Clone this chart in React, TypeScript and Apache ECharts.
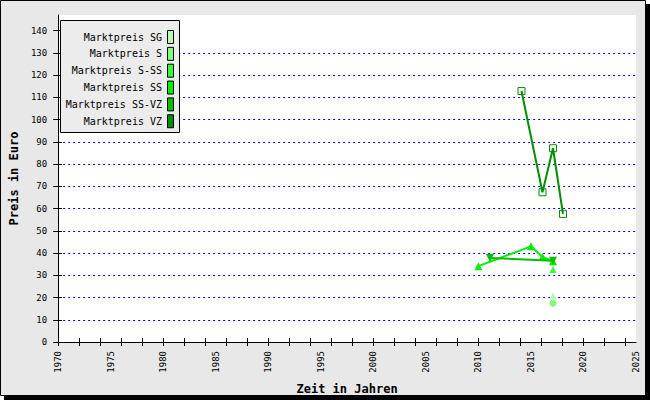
import React, { useEffect, useRef } from "react";
import * as echarts from "echarts";

// ---- data ----
const seriesNames = [
  "Marktpreis SG",
  "Marktpreis S",
  "Marktpreis S-SS",
  "Marktpreis SS",
  "Marktpreis SS-VZ",
  "Marktpreis VZ",
];
const seriesColors = ["#b3ffb3", "#80ff80", "#33ff33", "#00ee00", "#00c000", "#008f00"];

const sgYears = [2017.1];
const sgPrices = [20.8];
const sYears = [2017.1];
const sPrices = [17.4];
const sSsYears = [2017.1];
const sSsPrices = [32.6];
const ssYears = [2010.0, 2015.0, 2016.1, 2017.1];
const ssPrices = [34.1, 43.0, 38.2, 36.3];
const ssVzYears = [2011.1, 2017.1];
const ssVzPrices = [37.8, 36.5];
const vzYears = [2014.1, 2016.1, 2017.1, 2018.05];
const vzPrices = [112.8, 67.3, 87.1, 57.6];

const xTickValues = [
  1970, 1972, 1974, 1976, 1978, 1980, 1982, 1984, 1986, 1988, 1990, 1992, 1994, 1996, 1998,
  2000, 2002, 2004, 2006, 2008, 2010, 2012, 2014, 2016, 2018, 2020, 2022, 2024,
];
const xLabelValues = [1970, 1975, 1980, 1985, 1990, 1995, 2000, 2005, 2010, 2015, 2020, 2025];
const yTickValues = [0, 10, 20, 30, 40, 50, 60, 70, 80, 90, 100, 110, 120, 130, 140];

const zip = (xs: number[], ys: number[]) => xs.map((x, i) => [x, ys[i]]);

const MONO = '"DejaVu Sans Mono", monospace';

export default function App() {
  const ref = useRef<HTMLDivElement>(null);
  useEffect(() => {
    document.body.style.margin = "0";
    const chart = echarts.init(ref.current!, null, { renderer: "svg" });

    const markers = [
      { symbol: "triangle", rotate: 0, size: 7, hollow: false, line: false },
      { symbol: "circle", rotate: 0, size: 7, hollow: false, line: false },
      { symbol: "triangle", rotate: 0, size: 7, hollow: false, line: false },
      { symbol: "triangle", rotate: 0, size: 8, hollow: false, line: true },
      { symbol: "triangle", rotate: 180, size: 8, hollow: false, line: true },
      { symbol: "rect", rotate: 0, size: 7, hollow: true, line: true },
    ];
    const datas = [
      zip(sgYears, sgPrices),
      zip(sYears, sPrices),
      zip(sSsYears, sSsPrices),
      zip(ssYears, ssPrices),
      zip(ssVzYears, ssVzPrices),
      zip(vzYears, vzPrices),
    ];

    const series = seriesNames.map((name, i) => ({
      name,
      type: "line",
      data: datas[i],
      symbol: markers[i].symbol,
      symbolSize: markers[i].size,
      symbolRotate: markers[i].rotate,
      showAllSymbol: true,
      lineStyle: { color: seriesColors[i], width: markers[i].line ? 2 : 0 },
      itemStyle: markers[i].hollow
        ? { color: "rgba(0,0,0,0)", borderColor: seriesColors[i], borderWidth: 1 }
        : { color: seriesColors[i], borderWidth: 0 },
      z: 2 + i,
      xAxisIndex: 0,
      yAxisIndex: 0,
    }));

    const legendTop = 37;
    const legendStep = 16.85;
    const legendGraphics: any[] = [
      {
        type: "rect",
        shape: { x: 60.5, y: 20.5, width: 119, height: 112 },
        style: { fill: "#ececec", stroke: "#000", lineWidth: 1 },
        z: 50,
      },
    ];
    seriesNames.forEach((n, i) => {
      const cy = legendTop + i * legendStep;
      legendGraphics.push({
        type: "text",
        x: 162,
        y: cy,
        style: {
          text: n,
          font: `10px ${MONO}`,
          fill: "#000",
          align: "right",
          verticalAlign: "middle",
        },
        z: 51,
      });
      legendGraphics.push({
        type: "rect",
        shape: { x: 167.5, y: cy - 6.5, width: 6, height: 13 },
        style: { fill: seriesColors[i], stroke: "#000", lineWidth: 1 },
        z: 51,
      });
    });

    const baseX = {
      type: "value",
      min: 1970,
      max: 2025,
      interval: 1,
      position: "bottom",
      splitLine: { show: false },
    };
    const baseY = {
      type: "value",
      min: 0,
      max: 147,
      interval: 10,
      position: "left",
    };

    chart.setOption({
      animation: false,
      backgroundColor: "#ffffff",
      grid: {
        left: 49,
        top: 15,
        width: 587,
        height: 332,
        show: true,
        backgroundColor: "#ffffff",
        borderWidth: 0,
        containLabel: false,
      },
      xAxis: [
        {
          ...baseX,
          name: "Zeit in Jahren",
          nameLocation: "middle",
          nameGap: 41,
          nameTextStyle: { fontFamily: MONO, fontSize: 12, fontWeight: "bold", color: "#000" },
          axisLine: { show: true, lineStyle: { color: "#000", width: 1 } },
          axisTick: { show: true, length: 4, customValues: xTickValues, lineStyle: { color: "#000" } },
          axisLabel: {
            show: true,
            customValues: xLabelValues,
            formatter: (v: number) => String(Math.round(v)),
            rotate: 90,
            margin: 9,
            fontFamily: MONO,
            fontSize: 9,
            color: "#000",
          },
        },
        {
          ...baseX,
          axisLine: { show: false },
          axisTick: { show: true, inside: true, length: 4, customValues: xTickValues, lineStyle: { color: "#000" } },
          axisLabel: { show: false },
        },
      ],
      yAxis: [
        {
          ...baseY,
          name: "Preis in Euro",
          nameLocation: "middle",
          nameGap: 31,
          nameRotate: 90,
          nameTextStyle: { fontFamily: MONO, fontSize: 12, fontWeight: "bold", color: "#000" },
          axisLine: { show: true, lineStyle: { color: "#000", width: 1 } },
          axisTick: { show: true, length: 5, customValues: yTickValues, lineStyle: { color: "#000" } },
          axisLabel: {
            show: true,
            customValues: yTickValues,
            formatter: (v: number) => String(Math.round(v)),
            margin: 11,
            fontFamily: MONO,
            fontSize: 9,
            color: "#000",
          },
          splitLine: {
            show: true,
            showMinLine: false,
            showMaxLine: false,
            lineStyle: { color: "#0000ff", width: 1, type: [2, 3] },
          },
        },
        {
          ...baseY,
          axisLine: { show: false },
          axisTick: { show: true, inside: true, length: 4, customValues: yTickValues, lineStyle: { color: "#000" } },
          axisLabel: { show: false },
          splitLine: { show: false },
        },
      ],
      graphic: [
        {
          type: "rect",
          shape: { x: 4, y: 4, width: 646, height: 396 },
          style: { fill: "#000" },
          z: -10,
          silent: true,
        },
        {
          type: "rect",
          shape: { x: 0.5, y: 0.5, width: 645, height: 395 },
          style: { fill: "#e8e8e8", stroke: "#000", lineWidth: 1 },
          z: -9,
          silent: true,
        },
        ...legendGraphics,
      ],
      series,
    });
    return () => chart.dispose();
  }, []);
  return (
    <div
      ref={ref}
      style={{ position: "absolute", left: 0, top: 0, width: 650, height: 400 }}
    />
  );
}
